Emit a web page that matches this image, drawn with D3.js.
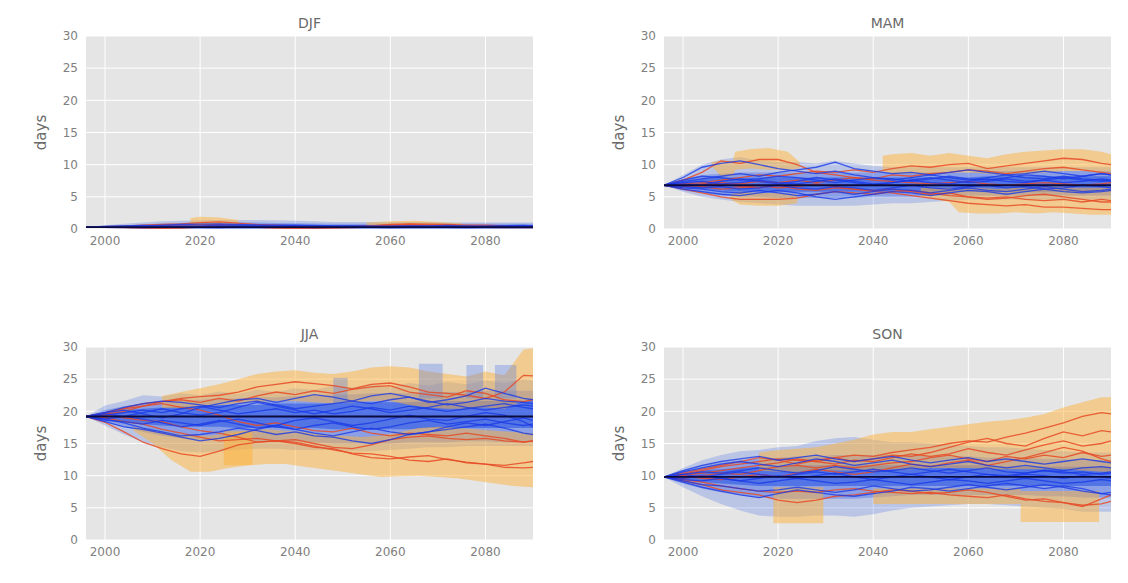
<!DOCTYPE html>
<html>
<head>
<meta charset="utf-8">
<script src="https://cdn.jsdelivr.net/npm/d3@7"></script>
<style>
  body { margin: 0; background: #fff; }
  svg { display: block; font-family: "DejaVu Sans", sans-serif; }
</style>
</head>
<body>
<svg width="1128" height="583"></svg>
<script>
// x grid shared by all lines and fans
const years = [1996, 2000, 2004, 2008, 2012, 2016, 2020, 2024, 2028, 2032, 2036, 2040, 2044,
  2048, 2052, 2056, 2060, 2064, 2068, 2072, 2076, 2080, 2084, 2088, 2090];
const yTicks = [0, 5, 10, 15, 20, 25, 30];
const xTicks = [2000, 2020, 2040, 2060, 2080];

// ---------- DJF ----------
const djfBase = 0.3;
const djfRed = [
  [0.3, 0.35, 0.45, 0.6, 0.7, 0.8, 1.0, 1.1, 0.9, 0.7, 0.6, 0.5, 0.4, 0.35, 0.4, 0.5, 0.7, 0.8, 0.75, 0.7, 0.6, 0.6, 0.5, 0.4, 0.4],
  [0.3, 0.25, 0.2, 0.15, 0.1, 0.15, 0.3, 0.5, 0.4, 0.25, 0.15, 0.1, 0.1, 0.15, 0.2, 0.3, 0.45, 0.55, 0.5, 0.4, 0.3, 0.25, 0.2, 0.2, 0.2],
  [0.3, 0.3, 0.35, 0.4, 0.5, 0.6, 0.65, 0.7, 0.6, 0.5, 0.45, 0.4, 0.35, 0.3, 0.35, 0.5, 0.6, 0.7, 0.65, 0.55, 0.5, 0.45, 0.4, 0.35, 0.3]
];
const djfBlue = [
  [0.3, 0.35, 0.4, 0.5, 0.6, 0.7, 0.75, 0.8, 0.7, 0.65, 0.6, 0.55, 0.5, 0.45, 0.5, 0.45, 0.4, 0.45, 0.5, 0.55, 0.5, 0.45, 0.5, 0.55, 0.5],
  [0.3, 0.3, 0.25, 0.2, 0.25, 0.3, 0.25, 0.2, 0.3, 0.35, 0.3, 0.25, 0.2, 0.25, 0.3, 0.25, 0.2, 0.25, 0.3, 0.35, 0.3, 0.35, 0.4, 0.35, 0.3],
  [0.3, 0.4, 0.5, 0.55, 0.5, 0.45, 0.5, 0.6, 0.55, 0.5, 0.55, 0.6, 0.55, 0.5, 0.45, 0.4, 0.45, 0.5, 0.45, 0.4, 0.35, 0.4, 0.45, 0.5, 0.45],
  [0.3, 0.25, 0.3, 0.35, 0.4, 0.35, 0.3, 0.35, 0.4, 0.45, 0.4, 0.35, 0.3, 0.35, 0.3, 0.25, 0.3, 0.35, 0.3, 0.25, 0.2, 0.25, 0.3, 0.25, 0.3]
];
const djfFanLo = [
  [0.3, 0.1, 0, 0, 0, 0, 0, 0, 0, 0, 0, 0, 0, 0, 0, 0, 0, 0, 0, 0, 0, 0, 0, 0, 0],
  [0.3, 0.15, 0.1, 0.05, 0.05, 0.05, 0.05, 0.05, 0.05, 0.05, 0.05, 0.05, 0.05, 0.05, 0.05, 0.05, 0.05, 0.05, 0.05, 0.05, 0.05, 0.05, 0.05, 0.05, 0.05],
  [0.3, 0.2, 0.15, 0.1, 0.1, 0.1, 0.1, 0.1, 0.1, 0.1, 0.1, 0.1, 0.1, 0.1, 0.1, 0.1, 0.1, 0.1, 0.1, 0.1, 0.1, 0.1, 0.1, 0.1, 0.1]
];
const djfFanHi = [
  [0.3, 0.6, 0.8, 1.0, 1.2, 1.3, 1.35, 1.4, 1.4, 1.4, 1.35, 1.3, 1.2, 1.1, 1.1, 1.1, 1.1, 1.1, 1.1, 1.0, 1.0, 1.0, 1.0, 1.0, 1.0],
  [0.3, 0.5, 0.6, 0.7, 0.85, 0.95, 1.0, 1.0, 1.0, 1.0, 0.95, 0.9, 0.85, 0.8, 0.8, 0.8, 0.8, 0.8, 0.8, 0.8, 0.8, 0.8, 0.8, 0.8, 0.8],
  [0.3, 0.4, 0.45, 0.5, 0.55, 0.6, 0.6, 0.6, 0.6, 0.6, 0.6, 0.6, 0.6, 0.6, 0.6, 0.6, 0.6, 0.6, 0.6, 0.6, 0.6, 0.6, 0.6, 0.6, 0.6]
];
const djfOrangeYears = [[2018, 2020, 2024, 2028], [2055, 2060, 2065, 2070, 2075]];
const djfOrangeLo = [[0.5, 0.4, 0.4, 0.5], [0.3, 0.2, 0.3, 0.3, 0.3]];
const djfOrangeHi = [[1.7, 1.9, 1.8, 1.4], [1.0, 1.2, 1.3, 1.1, 0.9]];

// ---------- MAM ----------
const mamBase = 6.8;
const mamRed = [
  [6.8, 7.6, 8.8, 10.6, 10.2, 10.8, 10.8, 10, 8.8, 8.4, 8, 7.6, 7.4, 7.2, 7, 7.2, 7.4, 7, 6.8, 7, 7.2, 7, 6.8, 7, 7.2],
  [6.8, 6.2, 5.6, 5, 4.6, 4.6, 4.6, 4.8, 5.4, 5.8, 5.6, 5.4, 5.8, 6, 5.6, 5.2, 5, 4.6, 4.8, 5.2, 5.4, 5, 4.6, 4.2, 4.2],
  [6.8, 7, 7.2, 7.6, 8, 8.4, 8.2, 8.6, 9, 8.8, 9.2, 8.8, 9.4, 9.8, 9.6, 10, 10.2, 9.4, 9.8, 10.2, 10.6, 11, 10.8, 10.2, 10],
  [6.8, 6.6, 6.8, 7, 6.6, 6.4, 6.8, 6.2, 6, 6.4, 6.2, 5.8, 5.6, 5.2, 4.8, 4.4, 4, 3.8, 3.6, 3.8, 3.4, 3.4, 3.2, 3, 3],
  [6.8, 7, 6.6, 6.2, 6.4, 6.8, 6.4, 6.6, 7, 6.6, 6.2, 6, 6.2, 5.8, 5.4, 5.6, 5, 4.8, 5, 4.6, 4.4, 4.6, 4.2, 4.6, 4.4],
  [6.8, 6.6, 7, 7.2, 7, 7.4, 7.2, 7.6, 7.2, 7.6, 8, 7.8, 8.4, 8.2, 8.6, 8.8, 9.2, 9, 8.6, 9, 9.4, 9.6, 9.2, 8.8, 8.6]
];
const mamBlue = [
  [6.8, 8, 9.6, 10.2, 10.6, 10, 9.4, 9, 8.6, 9, 8.4, 8, 7.6, 8, 8.4, 8, 7.6, 8, 8.4, 8, 7.8, 8.2, 7.8, 7.6, 7.4],
  [6.8, 7.4, 7.8, 8.2, 8.6, 8.2, 8.8, 9.2, 9.6, 10.4, 9.4, 9, 8.6, 8.8, 8.4, 8.8, 9.2, 8.8, 8.4, 8.6, 9, 8.6, 8.2, 8.6, 8.4],
  [6.8, 6.4, 6.2, 5.8, 5.6, 6, 5.6, 5.2, 5.4, 5.8, 5.4, 5.8, 6.2, 6, 5.6, 6, 6.4, 6, 5.8, 6.2, 6.6, 6.2, 5.8, 6, 6.2],
  [6.8, 7.2, 7.4, 7, 7.2, 7.6, 7.2, 7, 7.4, 7.8, 7.4, 7, 7.2, 7.6, 7.2, 7, 7.4, 7.8, 7.4, 7.2, 7.6, 8, 7.6, 7.4, 7.6],
  [6.8, 6.6, 6.4, 6.6, 6.2, 6.4, 6.8, 6.4, 6.2, 6.6, 6.4, 6, 6.4, 6.8, 6.4, 6.2, 6.6, 6.8, 6.4, 6.6, 6.2, 6.4, 6.8, 6.6, 6.4],
  [6.8, 7.6, 8.2, 8, 7.6, 7.8, 8.2, 8, 7.6, 7.2, 7.6, 8, 7.8, 7.4, 7.8, 8.2, 7.8, 7.6, 8, 8.4, 8.2, 7.8, 8.2, 8.6, 8.4],
  [6.8, 6.2, 5.8, 5.4, 5.2, 5.6, 6, 5.6, 5, 4.6, 5, 5.4, 5.8, 5.6, 5.2, 5.6, 6, 5.8, 5.4, 5.8, 6.2, 5.8, 5.6, 5.8, 6],
  [6.8, 7, 6.8, 7.4, 7.8, 7.4, 7, 7.4, 8, 7.6, 7.2, 6.8, 7.2, 7.6, 8, 7.6, 7.2, 7.4, 7.8, 7.4, 7.6, 7.2, 7.4, 7.8, 7.6]
];
const mamFanLo = [
  [6.8, 5.8, 5, 4.6, 4.2, 4, 3.8, 3.6, 3.6, 3.6, 3.6, 3.8, 4, 4, 4.2, 4.4, 4.6, 4.6, 4.6, 4.6, 4.6, 4.6, 4.6, 4.6, 4.6],
  [6.8, 6, 5.6, 5.2, 5, 5, 4.8, 4.8, 4.8, 4.8, 4.8, 5, 5, 5, 5.2, 5.2, 5.2, 5.2, 5.2, 5.2, 5.2, 5.2, 5.2, 5.2, 5.2],
  [6.8, 6.4, 6.2, 6, 5.8, 5.8, 5.8, 5.8, 5.8, 5.8, 5.8, 5.8, 5.8, 5.8, 5.8, 5.8, 5.8, 5.8, 5.8, 5.8, 5.8, 5.8, 5.8, 5.8, 5.8]
];
const mamFanHi = [
  [6.8, 8.4, 10, 10.8, 11.2, 10.6, 10.4, 10.4, 10.2, 10.6, 10.2, 9.8, 9.6, 9.6, 9.6, 9.6, 9.6, 9.6, 9.6, 9.6, 9.6, 9.6, 9.6, 9.6, 9.6],
  [6.8, 7.8, 8.4, 8.6, 8.8, 8.8, 8.8, 8.8, 8.8, 8.8, 8.8, 8.8, 8.8, 8.8, 8.8, 8.8, 8.8, 9, 9, 9, 9, 9, 9, 9, 9],
  [6.8, 7.4, 7.8, 8, 8, 8, 8, 8, 8, 8, 8, 8, 8, 8, 8, 8, 8, 8.2, 8.2, 8.2, 8.2, 8.2, 8.2, 8.2, 8.2]
];
const mamOrangeYears = [
  [2006, 2008, 2010.5, 2011, 2014, 2018, 2022, 2024.5],
  [2010, 2012, 2016, 2020, 2024],
  [2042, 2044, 2048, 2052, 2056, 2060, 2064, 2068, 2072, 2076, 2080, 2084, 2088, 2090],
  [2050, 2056, 2058, 2062, 2066, 2070, 2074, 2078, 2082, 2086, 2090]
];
const mamOrangeLo = [
  [9.8, 8.2, 8.2, 9.2, 9.4, 9.2, 9.2, 9.4],
  [4.6, 3.8, 3.6, 3.6, 4],
  [9, 8.6, 8.6, 8.6, 8.8, 8.8, 8.6, 8.4, 8.6, 8.8, 9, 9, 8.8, 8.8],
  [5, 4.2, 2.6, 2.4, 2.4, 2.6, 2.4, 2.6, 2.4, 2.2, 2.2]
];
const mamOrangeHi = [
  [10.4, 10.6, 10.6, 12, 12.4, 12.6, 12, 10.4],
  [5.4, 5.8, 5.6, 5.6, 5.4],
  [11.4, 11.6, 11.8, 11.4, 11.8, 11.4, 11, 11.6, 12, 12.2, 12.4, 12.4, 12, 11.6],
  [6.4, 6.4, 6.2, 6.4, 6.2, 6.4, 6.4, 6.6, 6.4, 6.4, 6.4]
];

// ---------- JJA ----------
const jjaBase = 19.2;
const jjaRed = [
  [19.2, 19.8, 20.5, 21.2, 21.5, 22, 22.3, 22.5, 23, 23.8, 24.2, 24.6, 24.3, 24, 23.5, 24.2, 24.4, 23.8, 23, 22.8, 22.5, 22, 23, 25.6, 25.5],
  [19.2, 19.5, 20, 20.8, 21.5, 21.8, 21.4, 22, 21.6, 22.4, 23, 22.6, 23.2, 22.8, 23.4, 23.8, 24, 23, 22.6, 22.2, 23.2, 22.8, 21.8, 21.5, 21.8],
  [19.2, 18.3, 16.8, 15.2, 14.2, 13.4, 13, 13.8, 14.8, 15.2, 15.4, 15, 14.4, 14.2, 13.4, 12.8, 12.6, 12.9, 13.1, 12.5, 12.1, 11.8, 11.3, 11.2, 11.3],
  [19.2, 19, 18.4, 18, 17.2, 16.6, 16, 15.4, 15.6, 15.8, 15.4, 15.6, 15, 14.4, 14.2, 14.8, 15.6, 16, 16.2, 15.8, 15.6, 15.8, 15.4, 15.2, 15.4],
  [19.2, 19.4, 19, 18.6, 18.4, 17.6, 17, 16.6, 16, 15.2, 15.4, 15.2, 14.6, 14, 13.5, 13.4, 13, 12.4, 12.2, 12.6, 12, 11.8, 11.6, 12, 12.2],
  [19.2, 19.6, 20.4, 20.8, 21.2, 20.6, 20.2, 19.4, 18.4, 17.8, 18.2, 17.6, 17, 16.8, 17.4, 16.6, 16.2, 16.6, 16.4, 16.2, 16.6, 16.2, 15.8, 15.2, 15.4]
];
const jjaBlue = [
  [19.2, 19.8, 20.6, 21.2, 21.6, 21.4, 21, 20.6, 21.2, 21.6, 21, 20.4, 20.8, 21.2, 21.6, 21.2, 21.8, 22.2, 21.6, 21, 21.4, 22, 21.6, 21.4, 21.2],
  [19.2, 18.8, 18.2, 17.4, 16.8, 16.2, 16.4, 16.8, 17.4, 17, 16.4, 16.8, 16.2, 16, 15.4, 15, 15.6, 16.4, 16.8, 17.2, 17.6, 18, 17.4, 16.6, 16.4],
  [19.2, 19.4, 19.8, 20.2, 19.8, 20.4, 20.8, 20.2, 19.6, 20, 20.4, 19.8, 20.2, 19.6, 20, 20.6, 20.2, 20.8, 20.4, 20, 20.4, 20.8, 21.2, 20.6, 20.4],
  [19.2, 18.6, 18.4, 18, 18.6, 18.2, 17.8, 18.4, 18.8, 18.2, 17.6, 17.2, 17.8, 18.2, 17.6, 17.2, 17.6, 18.2, 18.6, 18, 18.4, 18.8, 18.2, 17.8, 18],
  [19.2, 19.8, 20.2, 19.6, 19, 19.6, 20.6, 21.2, 21.8, 22, 21.4, 22, 22.6, 22.2, 21.6, 22.4, 22.8, 22.2, 21.4, 21.8, 22.4, 23.6, 22.8, 22, 21.8],
  [19.2, 18.8, 19.2, 18.8, 18.2, 17.6, 18, 18.6, 18, 17.4, 17.8, 18.6, 19, 18.4, 17.8, 18.2, 18.8, 19.4, 18.8, 18.6, 19.2, 19.8, 19.4, 18.4, 17.6],
  [19.2, 19.6, 19.2, 19.8, 20.4, 19.8, 19.4, 19.8, 20.6, 21.4, 20.8, 20.2, 19.6, 20.2, 20.8, 20.4, 19.8, 20.2, 20.6, 21.2, 20.6, 20.2, 20.6, 21, 20.8],
  [19.2, 18.4, 17.6, 17.2, 16.6, 16, 15.4, 15.8, 16.4, 17.2, 17.8, 17.2, 16.6, 16.2, 16.8, 17.4, 16.8, 16.4, 16.8, 17.6, 18.2, 17.8, 18.4, 19, 18.6]
];
const jjaFanLo = [
  [19.2, 17.8, 16.4, 15.2, 14.4, 13.8, 13.6, 13.8, 14, 14.2, 14.2, 14, 14, 14, 13.8, 13.8, 14, 14.2, 14.4, 14.4, 14.6, 14.6, 14.6, 14.6, 14.6],
  [19.2, 18.4, 17.6, 16.8, 16.2, 15.8, 15.6, 15.6, 15.6, 15.4, 15.4, 15.4, 15.2, 15, 15, 15, 15, 15.2, 15.2, 15.2, 15.4, 15.4, 15.2, 15.2, 15.2],
  [19.2, 18.8, 18.4, 18, 17.8, 17.6, 17.6, 17.6, 17.4, 17.4, 17.4, 17.4, 17.4, 17.2, 17.2, 17.2, 17.2, 17.2, 17.4, 17.4, 17.4, 17.4, 17.4, 17.4, 17.4]
];
const jjaFanHi = [
  [19.2, 20.9, 21.6, 22.5, 22.3, 22.8, 22.5, 23.1, 22.7, 23.4, 23, 23.6, 23.3, 24, 23.7, 24.2, 23.8, 24.4, 24, 24.6, 24.2, 24.8, 24.4, 25, 24.8],
  [19.2, 20.2, 20.8, 21.2, 21.4, 21.6, 21.8, 22, 22, 22.2, 22.2, 22.4, 22.4, 22.6, 22.6, 22.8, 22.8, 22.8, 23, 23, 23, 23.2, 23.2, 23.2, 23.2],
  [19.2, 19.8, 20.2, 20.4, 20.6, 20.8, 20.8, 21, 21, 21, 21.2, 21.2, 21.2, 21.2, 21.4, 21.4, 21.4, 21.4, 21.6, 21.6, 21.6, 21.6, 21.6, 21.6, 21.6]
];
const jjaOrangeYears = [
  [2012, 2016, 2020, 2024, 2028, 2032, 2036, 2040, 2044, 2048, 2052, 2056, 2060, 2064, 2068, 2072, 2076, 2080, 2084, 2088, 2090],
  [2006, 2010, 2014, 2018, 2022, 2026, 2030, 2034, 2038, 2042, 2046, 2050, 2054, 2058, 2062, 2066, 2070, 2074, 2078, 2082, 2086, 2090],
  [2025, 2031]
];
const jjaOrangeLo = [
  [20.5, 20.5, 20.8, 21, 21.2, 21.5, 21.6, 21.6, 21.4, 21.2, 21.4, 21.6, 21.6, 21, 20.6, 20.4, 20.4, 20.6, 20.4, 21.6, 21.6],
  [17, 15, 12.4, 10.6, 10.6, 11.2, 11.6, 11.8, 11.8, 11.4, 11, 10.6, 10.2, 9.8, 9.9, 10, 9.8, 9.6, 9.2, 8.8, 8.4, 8.2],
  [11.6, 11.6]
];
const jjaOrangeHi = [
  [22.4, 23, 23.6, 24.2, 25, 25.8, 26.2, 26.4, 26, 25.8, 26.2, 26.8, 27, 26.8, 26.2, 25.8, 25.4, 26.2, 25.6, 29.6, 29.8],
  [17.6, 17, 16.6, 16.2, 16.2, 16.6, 17, 17.2, 17, 16.8, 16.4, 16.2, 16, 16.2, 16.8, 17.4, 17.6, 17.4, 17.2, 17, 16.8, 16.6],
  [17, 17]
];
const jjaBlockYears = [[2048, 2051], [2066, 2071], [2076, 2079.5], [2082, 2086.5]];
const jjaBlockLo = [[21, 21], [22, 22], [22, 22], [22, 22]];
const jjaBlockHi = [[25.2, 25.2], [27.4, 27.4], [27.2, 27.2], [27.2, 27.2]];

// ---------- SON ----------
const sonBase = 9.8;
const sonRed = [
  [9.8, 10.2, 10.8, 11.4, 11.8, 12.2, 12.6, 12.4, 12.2, 12.8, 13.2, 13, 13.6, 14, 14.4, 15, 15.4, 15.2, 16, 16.6, 17.4, 18.2, 19.2, 19.8, 19.6],
  [9.8, 10.4, 11, 11.6, 12.2, 12.8, 12.4, 11.8, 12.4, 12.8, 12.2, 12.6, 13.2, 13, 13.6, 14.4, 15.2, 15.8, 15, 14.6, 15.8, 16.8, 16.2, 17, 16.8],
  [9.8, 10, 10.4, 10.8, 11.2, 11.6, 12, 12.6, 12.2, 11.8, 12.4, 12.2, 12.8, 13.4, 13, 13.4, 14.2, 13.6, 13.2, 14, 14.8, 15.4, 14.6, 15, 15.4],
  [9.8, 9.6, 10, 10.4, 10.2, 10.8, 11.4, 11.6, 11.2, 11.6, 11.2, 11.6, 12, 12.2, 12.8, 13.2, 12.6, 12.2, 13, 12.6, 13.2, 12.8, 13.6, 13, 13.2],
  [9.8, 9.4, 9, 8.4, 8, 7.6, 7.4, 7.6, 7.4, 7.8, 8, 7.6, 7.4, 7.2, 7.4, 7, 6.8, 6.6, 7, 6.4, 6, 5.8, 5.4, 5.6, 6],
  [9.8, 9.2, 8.6, 7.8, 7.4, 7, 6.2, 5.8, 6.2, 6.8, 7, 7.4, 7.8, 7.6, 7.2, 7.4, 7.8, 7.4, 6.8, 6.2, 6.4, 5.8, 5.2, 6.4, 7],
  [9.8, 10, 9.6, 9.4, 9.8, 10.2, 9.8, 10.4, 11, 10.6, 10.2, 10.6, 11.2, 11.8, 11.4, 12, 12.4, 11.6, 12.2, 12.8, 13.6, 14.4, 13.8, 12.6, 12.2]
];
const sonBlue = [
  [9.8, 10.6, 11.2, 11.8, 12.2, 11.8, 11.4, 12, 12.6, 12.2, 11.6, 12, 12.4, 11.8, 11.4, 11.8, 12.2, 11.6, 11.2, 11.6, 11.2, 10.8, 11.2, 11.4, 11.2],
  [9.8, 9.2, 8.6, 8.4, 8, 7.6, 7.8, 8.2, 7.8, 7.4, 7.8, 8.4, 8, 7.6, 7.8, 8.2, 8.6, 8.2, 7.8, 8.2, 8.6, 8.2, 7.6, 7.2, 7.4],
  [9.8, 10.2, 10.6, 10.4, 10.8, 11.2, 10.8, 10.4, 10.8, 11.4, 11, 10.6, 10.8, 11.2, 10.8, 10.4, 10.8, 11.2, 10.6, 10.4, 10.8, 10.6, 10.2, 10.4, 10.6],
  [9.8, 9.4, 9.2, 9.6, 9.2, 8.8, 9.2, 9.6, 9.2, 8.8, 9, 9.4, 9, 8.6, 9, 9.4, 9.2, 8.8, 9.2, 9.6, 9.2, 8.8, 9, 9.4, 9.2],
  [9.8, 10.8, 11.6, 12.2, 12.6, 13, 12.4, 12.8, 13.2, 12.6, 12.2, 12.6, 13, 12.4, 12, 12.4, 12.8, 12.2, 12.6, 12.2, 11.8, 12.2, 12.6, 12.2, 12],
  [9.8, 9, 8.2, 7.6, 7, 6.6, 7.2, 7.8, 7.4, 7, 6.8, 7.2, 7.6, 8.2, 8, 7.6, 8, 8.4, 8.8, 8.4, 8, 8.4, 8, 7.2, 7],
  [9.8, 10.2, 9.8, 10.2, 10.6, 10.2, 9.8, 10.2, 10.6, 10.2, 10.6, 11, 10.6, 10.2, 10.6, 11, 10.6, 10.2, 10, 10.4, 10.8, 10.4, 10.6, 10.2, 10.4],
  [9.8, 9.6, 10, 9.6, 9.2, 9.6, 10, 9.6, 10, 10.4, 9.8, 9.4, 9.8, 10.2, 9.8, 9.4, 9.8, 10.2, 9.8, 10.2, 10, 9.6, 10, 9.8, 9.6]
];
const sonFanLo = [
  [9.8, 8.2, 6.8, 5.6, 4.6, 3.8, 3.6, 3.6, 3.8, 3.8, 3.6, 4, 4.6, 5, 5.2, 5.4, 5.6, 5.6, 5.4, 5.2, 5, 4.8, 4.4, 4.4, 4.4],
  [9.8, 8.8, 8, 7.4, 7, 6.6, 6.4, 6.4, 6.4, 6.4, 6.4, 6.6, 6.8, 7, 7, 7, 7, 7, 7, 7, 6.8, 6.8, 6.6, 6.6, 6.6],
  [9.8, 9.4, 9, 8.8, 8.6, 8.4, 8.4, 8.4, 8.4, 8.4, 8.4, 8.4, 8.4, 8.4, 8.4, 8.4, 8.4, 8.4, 8.4, 8.4, 8.4, 8.4, 8.4, 8.4, 8.4]
];
const sonFanHi = [
  [9.8, 11.2, 12.4, 13.2, 13.8, 14, 14.4, 14.6, 15.4, 15.8, 16, 15.6, 15.2, 15.2, 15, 14.8, 14.6, 14.4, 14.4, 14.2, 14, 13.8, 13.6, 13.6, 13.6],
  [9.8, 10.8, 11.6, 12, 12.4, 12.6, 12.8, 13, 13, 13.2, 13.2, 13.2, 13.2, 13.2, 13, 13, 13, 12.8, 12.8, 12.8, 12.6, 12.6, 12.4, 12.4, 12.4],
  [9.8, 10.4, 10.8, 11, 11.2, 11.4, 11.4, 11.6, 11.6, 11.6, 11.6, 11.6, 11.6, 11.6, 11.6, 11.6, 11.6, 11.6, 11.4, 11.4, 11.4, 11.4, 11.4, 11.4, 11.4]
];
const sonOrangeYears = [
  [2016, 2020, 2024, 2028, 2032, 2036, 2040, 2044, 2048, 2052, 2056, 2060, 2064, 2068, 2072, 2076, 2080, 2084, 2088, 2090],
  [2019, 2029.5],
  [2040, 2071],
  [2071, 2087.5]
];
const sonOrangeLo = [
  [10.8, 10.6, 10.6, 10.8, 10.8, 10.8, 10.8, 11, 11, 11.2, 11.2, 11.2, 11, 11, 11, 11, 11, 10.8, 10.6, 10.6],
  [2.6, 2.6],
  [5.6, 5.6],
  [2.8, 2.8]
];
const sonOrangeHi = [
  [13.6, 14, 14.2, 14.4, 15, 15.6, 16.4, 16.8, 16.8, 17.2, 17.6, 18, 18.4, 18.6, 19, 19.6, 20.6, 21.4, 22.2, 22.2],
  [8.2, 8.2],
  [8, 8],
  [7.6, 7.6]
];

// ---------- drawing ----------
const svg = d3.select("svg");
const W = 447, H = 193;
const x = d3.scaleLinear().domain([1996, 2090]).range([0, W]);
const y = d3.scaleLinear().domain([0, 30]).range([H, 0]);

const panels = [
  { title: "DJF", left: 86, top: 36, base: djfBase, red: djfRed, blue: djfBlue, fanLo: djfFanLo, fanHi: djfFanHi,
    orYears: djfOrangeYears, orLo: djfOrangeLo, orHi: djfOrangeHi, blYears: [], blLo: [], blHi: [] },
  { title: "MAM", left: 664, top: 36, base: mamBase, red: mamRed, blue: mamBlue, fanLo: mamFanLo, fanHi: mamFanHi,
    orYears: mamOrangeYears, orLo: mamOrangeLo, orHi: mamOrangeHi, blYears: [], blLo: [], blHi: [] },
  { title: "JJA", left: 86, top: 347, base: jjaBase, red: jjaRed, blue: jjaBlue, fanLo: jjaFanLo, fanHi: jjaFanHi,
    orYears: jjaOrangeYears, orLo: jjaOrangeLo, orHi: jjaOrangeHi, blYears: jjaBlockYears, blLo: jjaBlockLo, blHi: jjaBlockHi },
  { title: "SON", left: 664, top: 347, base: sonBase, red: sonRed, blue: sonBlue, fanLo: sonFanLo, fanHi: sonFanHi,
    orYears: sonOrangeYears, orLo: sonOrangeLo, orHi: sonOrangeHi, blYears: [], blLo: [], blHi: [] }
];

// outer fan light, inner fan dark
const fanOpacity = [0.22, 0.32, 0.55];

// line and band generators
const line = d3.line().x((d, i) => x(years[i])).y(d => y(d));
const fanArea = d3.area().x((d, i) => x(years[i])).y0(d => y(d[0])).y1(d => y(d[1]));
const bandArea = d3.area().x(d => x(d[0])).y0(d => y(d[1])).y1(d => y(d[2]));

panels.forEach((p, k) => {
  const g = svg.append("g").attr("transform", `translate(${p.left},${p.top})`);

  g.append("rect").attr("width", W).attr("height", H).attr("fill", "#e5e5e5");

  // grid
  g.selectAll(".hgrid").data(yTicks).enter().append("line")
    .attr("x1", 0).attr("x2", W)
    .attr("y1", d => y(d)).attr("y2", d => y(d))
    .attr("stroke", "#fff").attr("stroke-width", 1);
  g.selectAll(".vgrid").data(xTicks).enter().append("line")
    .attr("x1", d => x(d)).attr("x2", d => x(d))
    .attr("y1", 0).attr("y2", H)
    .attr("stroke", "#fff").attr("stroke-width", 1);

  g.append("clipPath").attr("id", "clip" + k)
    .append("rect").attr("width", W).attr("height", H);
  const plot = g.append("g").attr("clip-path", `url(#clip${k})`);

  // blue fans, outer first
  p.fanLo.forEach((lo, j) => {
    plot.append("path")
      .datum(lo.map((v, i) => [v, p.fanHi[j][i]]))
      .attr("d", fanArea)
      .attr("fill", "#2450e6")
      .attr("fill-opacity", fanOpacity[j]);
  });

  // orange ranges on top of the fans
  p.orYears.forEach((yrs, j) => {
    plot.append("path")
      .datum(yrs.map((yr, i) => [yr, p.orLo[j][i], p.orHi[j][i]]))
      .attr("d", bandArea)
      .attr("fill", "#fdb23a")
      .attr("fill-opacity", 0.5);
  });

  // light blue blocks
  p.blYears.forEach((yrs, j) => {
    plot.append("path")
      .datum(yrs.map((yr, i) => [yr, p.blLo[j][i], p.blHi[j][i]]))
      .attr("d", bandArea)
      .attr("fill", "#5a7de6")
      .attr("fill-opacity", 0.35);
  });

  plot.selectAll(".red").data(p.red).enter().append("path")
    .attr("d", line)
    .attr("fill", "none")
    .attr("stroke", "#e84a26")
    .attr("stroke-opacity", 0.85)
    .attr("stroke-width", 1.3);

  plot.selectAll(".blue").data(p.blue).enter().append("path")
    .attr("d", line)
    .attr("fill", "none")
    .attr("stroke", "#1a3ae6")
    .attr("stroke-opacity", 0.8)
    .attr("stroke-width", 1.3);

  plot.append("line")
    .attr("x1", 0).attr("x2", W)
    .attr("y1", y(p.base)).attr("y2", y(p.base))
    .attr("stroke", "#0b0b40").attr("stroke-width", 1.8);

  // tick labels
  g.selectAll(".ylab").data(yTicks).enter().append("text")
    .attr("x", -8).attr("y", d => y(d))
    .attr("dy", "0.35em")
    .attr("text-anchor", "end")
    .attr("font-size", 12)
    .attr("fill", "#808080")
    .text(d => d);
  g.selectAll(".xlab").data(xTicks).enter().append("text")
    .attr("x", d => x(d)).attr("y", H + 12)
    .attr("dy", "0.35em")
    .attr("text-anchor", "middle")
    .attr("font-size", 12)
    .attr("fill", "#808080")
    .text(d => d);

  g.append("text")
    .attr("x", W / 2).attr("y", -8)
    .attr("text-anchor", "middle")
    .attr("font-size", 14)
    .attr("fill", "#6a6a6a")
    .text(p.title);

  g.append("text")
    .attr("transform", `translate(-40,${H / 2}) rotate(-90)`)
    .attr("text-anchor", "middle")
    .attr("font-size", 15)
    .attr("fill", "#6a6a6a")
    .text("days");
});
</script>
</body>
</html>
